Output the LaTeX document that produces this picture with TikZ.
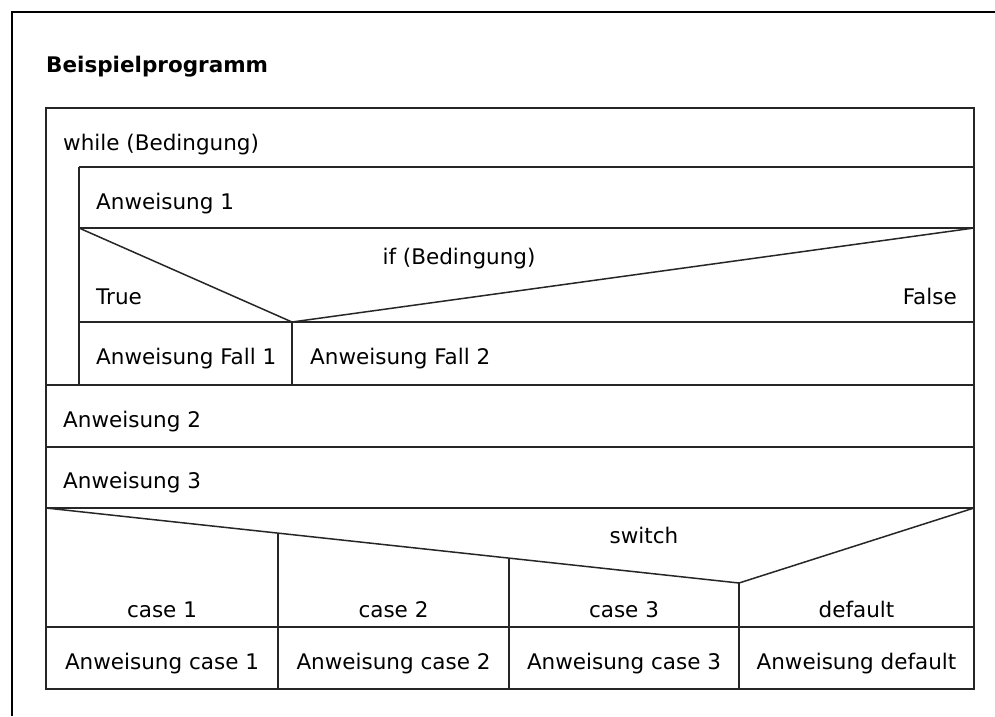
\documentclass[tikz,border=0pt]{standalone}
\usepackage{fontspec}
\setmainfont{DejaVu Sans}
\usetikzlibrary{positioning,calc}

\begin{document}
\begin{tikzpicture}[
  x=1pt, y=-1pt,
  font=\fontsize{21.5}{25}\selectfont,
  frame/.style={draw=black, line width=2pt},
  box/.style={draw=black!85, line width=1.5pt},
  txt/.style={anchor=base west, inner sep=0pt},
  ctxt/.style={anchor=base, inner sep=0pt},
]
\useasboundingbox (0,0) rectangle (995,716);

% outer frame (top and left only)
\draw[frame] (12,716) -- (12,12) -- (995,12);

\node[txt, font=\fontsize{21.5}{25}\selectfont\bfseries] (title) at (46,72) {Beispielprogramm};

% struktogramm outline
\draw[box] (46,108) rectangle (974,689);

% horizontal rules: y / left end
\foreach \y/\xl in {167/79, 228/79, 322/79, 385/46, 447/46, 508/46, 627/46}{
  \draw[box] (\xl,\y) -- (974,\y);
}

% while body bar and if split
\draw[box] (79,167) -- (79,385);
\draw[box] (292,322) -- (292,385);

% if triangle
\coordinate (ifL) at (79,228);
\coordinate (ifM) at (292,322);
\coordinate (ifR) at (974,228);
\draw[box] (ifL) -- (ifM) -- (ifR);

% switch triangle
\coordinate (swL) at (46,508);
\coordinate (swM) at (739,583);
\coordinate (swR) at (974,508);
\draw[box] (swL) -- (swM) -- (swR);

% case columns
\foreach \x/\y in {278/533, 509/558, 739/583}{
  \draw[box] (\x,\y) -- (\x,689);
}

% texts
\node[txt] (while) at (63,150) {while (Bedingung)};
\node[txt] (anw1) at (96,209) {Anweisung 1};
\node[ctxt] (ifcond) at (459,264) {if (Bedingung)};
\node[txt] (true) at (96,304) {True};
\node[anchor=base east, inner sep=0pt] (false) at (957,304) {False};
\node[txt] (fall1) at (96,364) {Anweisung Fall 1};
\node[txt] (fall2) at (310,364) {Anweisung Fall 2};
\node[txt] (anw2) at (63,427) {Anweisung 2};
\node[txt] (anw3) at (63,488) {Anweisung 3};
\node[ctxt] (switch) at (644,543) {switch};

\foreach \cx/\lbl/\stmt [count=\i] in
  {162/case 1/Anweisung case 1, 393.5/case 2/Anweisung case 2,
   624/case 3/Anweisung case 3, 856.5/default/Anweisung default}{
  \node[ctxt] (case\i) at (\cx,617) {\lbl};
  \node[ctxt] (stmt\i) at (\cx,669) {\stmt};
}

\end{tikzpicture}
\end{document}
